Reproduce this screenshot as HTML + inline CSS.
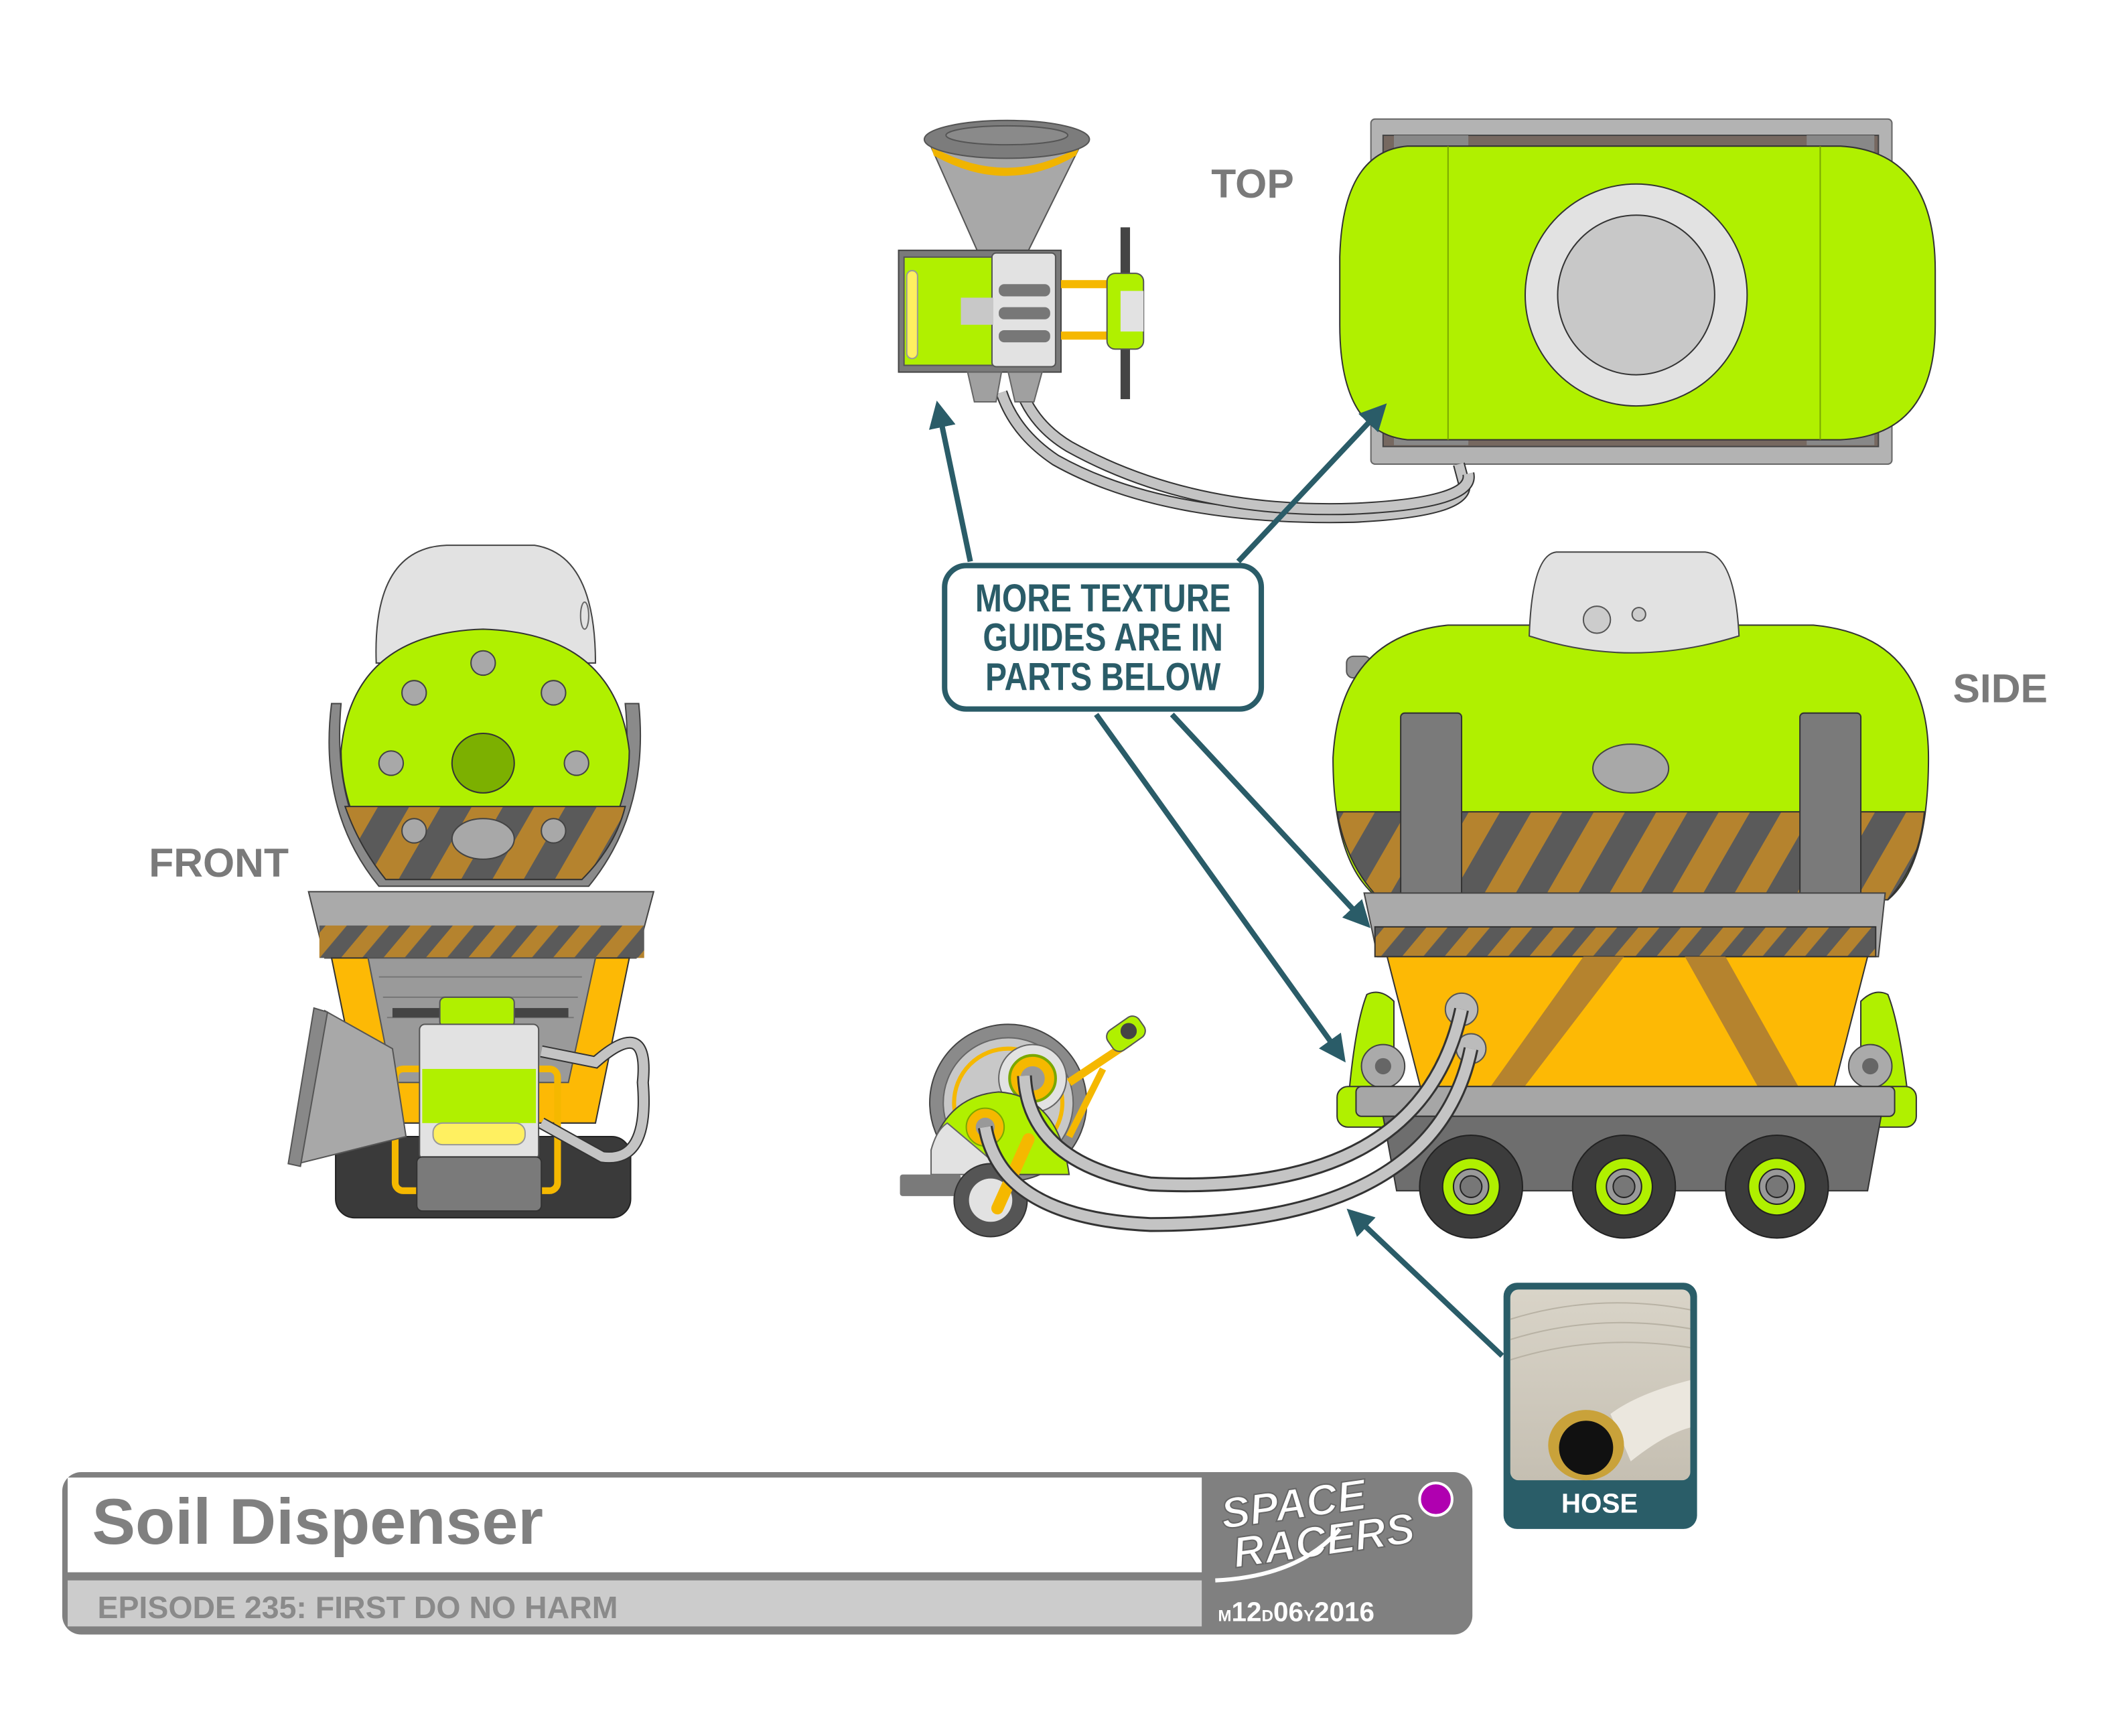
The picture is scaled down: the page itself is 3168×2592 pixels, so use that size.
<!DOCTYPE html>
<html><head><meta charset="utf-8"><style>
html,body{margin:0;padding:0;background:#fff}
svg{display:block}
text{font-family:"Liberation Sans",sans-serif;font-weight:bold}
</style></head><body>
<svg width="3168" height="2592" viewBox="0 0 1568 1283" preserveAspectRatio="none" xmlns="http://www.w3.org/2000/svg">
<defs>
<pattern id="hz" width="40" height="40" patternUnits="userSpaceOnUse" patternTransform="rotate(30)">
<rect width="40" height="40" fill="#5a5a5a"/><rect width="20" height="40" fill="#b5832e"/></pattern>
<pattern id="hz2" width="24" height="24" patternUnits="userSpaceOnUse" patternTransform="rotate(40)">
<rect width="24" height="24" fill="#5a5a5a"/><rect width="12" height="24" fill="#b5832e"/></pattern>
<marker id="ah" viewBox="0 0 10 10" refX="8" refY="5" markerWidth="5" markerHeight="5" orient="auto"><path d="M0,0 L10,5 L0,10 z" fill="#2a5c68"/></marker>
<linearGradient id="hg" x1="0" y1="0" x2="0" y2="1"><stop offset="0" stop-color="#d9d4c8"/><stop offset="1" stop-color="#c5bfb2"/></linearGradient>
</defs>

<text x="895" y="146" font-size="30" fill="#7a7a7a">TOP</text>
<text x="1443" y="519" font-size="30" fill="#7a7a7a">SIDE</text>
<text x="110" y="648" font-size="30" fill="#7a7a7a">FRONT</text>

<!-- TOP VIEW big tank -->
<rect x="1013" y="88" width="385" height="255" rx="3" fill="#b3b3b3" stroke="#666"/>
<rect x="1022" y="100" width="366" height="230" fill="#766860" stroke="#444"/>
<rect x="1030" y="100" width="55" height="12" fill="#888"/><rect x="1335" y="100" width="50" height="12" fill="#888"/>
<rect x="1030" y="317" width="55" height="12" fill="#888"/><rect x="1335" y="317" width="50" height="12" fill="#888"/>
<path d="M1040,108 L1360,108 Q1430,112 1430,200 L1430,240 Q1430,322 1360,325 L1040,325 Q990,320 990,240 L990,190 Q992,112 1040,108 Z" fill="#b0f000" stroke="#333"/>
<line x1="1070" y1="108" x2="1070" y2="325" stroke="#7aa800"/><line x1="1345" y1="108" x2="1345" y2="325" stroke="#7aa800"/>
<ellipse cx="1209" cy="218" rx="82" ry="82" fill="#e2e2e2" stroke="#333"/>
<ellipse cx="1209" cy="218" rx="58" ry="59" fill="#c8c8c8" stroke="#333"/>
<path d="M1078,343 L1082,358 Q1085,378 1000,382 Q860,385 780,340 Q750,320 740,290" fill="none" stroke="#333" stroke-width="9"/>
<path d="M1078,343 L1082,358 Q1085,378 1000,382 Q860,385 780,340 Q750,320 740,290" fill="none" stroke="#c4c4c4" stroke-width="7"/>
<path d="M1085,350 Q1090,372 1000,376 Q880,380 790,330 Q765,315 755,290" fill="none" stroke="#333" stroke-width="9"/>
<path d="M1085,350 Q1090,372 1000,376 Q880,380 790,330 Q765,315 755,290" fill="none" stroke="#c4c4c4" stroke-width="7"/>

<!-- TOP small device -->
<path d="M686,104 L800,104 L760,185 L722,185 Z" fill="#a8a8a8" stroke="#555"/>
<path d="M688,108 Q744,140 798,108 L795,115 Q744,145 690,115Z" fill="#f0b400"/>
<ellipse cx="744" cy="103" rx="61" ry="14" fill="#7c7c7c" stroke="#555"/>
<ellipse cx="744" cy="100" rx="45" ry="7" fill="#8a8a8a" stroke="#555"/>
<rect x="664" y="185" width="120" height="90" fill="#7a7a7a" stroke="#444"/>
<rect x="668" y="190" width="70" height="80" fill="#b0f000" stroke="#555"/>
<rect x="670" y="200" width="8" height="65" rx="4" fill="#fff060" stroke="#999"/>
<rect x="733" y="187" width="47" height="84" rx="3" fill="#e2e2e2" stroke="#555"/>
<rect x="738" y="210" width="38" height="9" rx="4" fill="#777"/><rect x="738" y="227" width="38" height="9" rx="4" fill="#777"/><rect x="738" y="244" width="38" height="9" rx="4" fill="#777"/>
<rect x="710" y="220" width="24" height="20" fill="#c8c8c8"/>
<rect x="784" y="207" width="35" height="6" fill="#f5b800"/><rect x="784" y="245" width="35" height="6" fill="#f5b800"/>
<rect x="828" y="168" width="7" height="127" fill="#444"/>
<rect x="818" y="202" width="27" height="56" rx="6" fill="#b0f000" stroke="#555"/>
<rect x="828" y="215" width="17" height="30" fill="#e2e2e2"/>
<path d="M715,275 L740,275 L736,297 L720,297Z" fill="#a0a0a0" stroke="#666"/>
<path d="M745,275 L770,275 L764,297 L750,297Z" fill="#a0a0a0" stroke="#666"/>

<!-- callout -->
<g stroke="#2a5c68" stroke-width="4" fill="none" marker-end="url(#ah)">
<line x1="717" y1="415" x2="693" y2="300"/>
<line x1="915" y1="415" x2="1022" y2="301"/>
<line x1="810" y1="528" x2="992" y2="782"/>
<line x1="866" y1="528" x2="1010" y2="683"/>
<line x1="1110" y1="1002" x2="998" y2="896"/>
</g>
<rect x="698" y="418" width="234" height="106" rx="16" fill="#fff" stroke="#2a5c68" stroke-width="4"/>
<g font-size="29" fill="#2a5c68" text-anchor="middle" transform="translate(815,0) scale(0.82,1)">
<text x="0" y="452">MORE TEXTURE</text><text x="0" y="481">GUIDES ARE IN</text><text x="0" y="510">PARTS BELOW</text></g>

<!-- SIDE VIEW -->
<rect x="995" y="485" width="18" height="16" rx="5" fill="#999" stroke="#555"/>
<rect x="995" y="510" width="18" height="18" rx="5" fill="#aaa" stroke="#555"/>
<rect x="995" y="560" width="18" height="18" rx="5" fill="#aaa" stroke="#555"/>
<rect x="995" y="610" width="18" height="18" rx="5" fill="#aaa" stroke="#555"/>
<path d="M1070,462 L1340,462 Q1425,470 1425,560 Q1425,640 1395,665 L1020,665 Q985,640 985,560 Q990,470 1070,462 Z" fill="#b0f000" stroke="#333"/>
<path d="M1130,470 Q1132,410 1150,408 L1260,408 Q1282,410 1285,470 Q1205,495 1130,470Z" fill="#e2e2e2" stroke="#444"/>
<circle cx="1180" cy="458" r="10" fill="#ccc" stroke="#555"/><circle cx="1211" cy="454" r="5" fill="#ccc" stroke="#555"/>
<path d="M988,600 L1422,600 Q1418,640 1395,665 L1020,665 Q995,640 988,600Z" fill="url(#hz)" stroke="#333"/>
<rect x="1035" y="527" width="45" height="138" rx="3" fill="#7a7a7a" stroke="#333"/>
<rect x="1330" y="527" width="45" height="138" rx="3" fill="#7a7a7a" stroke="#333"/>
<ellipse cx="1205" cy="568" rx="28" ry="18" fill="#a8a8a8" stroke="#444"/>
<path d="M1008,660 L1393,660 L1388,707 L1018,707Z" fill="#aaa" stroke="#444"/>
<rect x="1016" y="685" width="370" height="22" fill="url(#hz2)" stroke="#333"/>
<path d="M1010,735 Q1020,730 1030,740 L1030,830 L995,830 Q1000,760 1010,735Z" fill="#b0f000" stroke="#333"/>
<path d="M1395,735 Q1385,730 1375,740 L1375,830 L1412,830 Q1405,760 1395,735Z" fill="#b0f000" stroke="#333"/>
<path d="M1025,707 L1380,707 L1355,805 L1050,805Z" fill="#fdb905" stroke="#333"/>
<path d="M1100,805 L1170,707 L1200,707 L1125,805Z M1245,707 L1275,707 L1330,805 L1300,805Z" fill="#b5832e"/>
<circle cx="1022" cy="788" r="16" fill="#aaa" stroke="#444"/><circle cx="1022" cy="788" r="6" fill="#666"/>
<circle cx="1382" cy="788" r="16" fill="#aaa" stroke="#444"/><circle cx="1382" cy="788" r="6" fill="#666"/>
<rect x="988" y="803" width="428" height="30" rx="8" fill="#b0f000" stroke="#333"/>
<rect x="1002" y="803" width="398" height="22" rx="4" fill="#a6a6a6" stroke="#333"/>
<path d="M1022,825 L1390,825 L1380,880 L1032,880Z" fill="#6e6e6e" stroke="#333"/>
<g stroke="#222">
<circle cx="1087" cy="877" r="38" fill="#3c3c3c"/><circle cx="1087" cy="877" r="21" fill="#b0f000"/><circle cx="1087" cy="877" r="13" fill="#999"/><circle cx="1087" cy="877" r="8" fill="#777"/>
<circle cx="1200" cy="877" r="38" fill="#3c3c3c"/><circle cx="1200" cy="877" r="21" fill="#b0f000"/><circle cx="1200" cy="877" r="13" fill="#999"/><circle cx="1200" cy="877" r="8" fill="#777"/>
<circle cx="1313" cy="877" r="38" fill="#3c3c3c"/><circle cx="1313" cy="877" r="21" fill="#b0f000"/><circle cx="1313" cy="877" r="13" fill="#999"/><circle cx="1313" cy="877" r="8" fill="#777"/>
</g>
<circle cx="1080" cy="746" r="12" fill="#bbb" stroke="#555"/>
<circle cx="1087" cy="775" r="11" fill="#bbb" stroke="#555"/>

<!-- REEL -->
<circle cx="745" cy="815" r="58" fill="#8a8a8a" stroke="#444"/>
<circle cx="745" cy="815" r="48" fill="#c8c8c8" stroke="#666"/>
<circle cx="745" cy="815" r="40" fill="none" stroke="#f5b800" stroke-width="3"/>
<circle cx="763" cy="797" r="25" fill="#e2e2e2" stroke="#666"/>
<circle cx="763" cy="797" r="17" fill="#f5b800" stroke="#7aa800" stroke-width="2"/>
<circle cx="763" cy="797" r="9" fill="#999"/>
<path d="M790,800 L835,770" stroke="#f5b800" stroke-width="6"/>
<path d="M815,790 L790,840" stroke="#f5b800" stroke-width="5"/>
<rect x="818" y="755" width="28" height="18" rx="6" fill="#b0f000" stroke="#555" transform="rotate(-35 832 764)"/>
<circle cx="834" cy="762" r="6" fill="#444"/>
<path d="M688,868 L688,850 Q700,810 738,807 Q782,810 790,868Z" fill="#b0f000" stroke="#444"/>
<path d="M688,868 L688,850 Q692,835 700,830 L745,868Z" fill="#e2e2e2" stroke="#666"/>
<circle cx="728" cy="833" r="14" fill="#f5b800" stroke="#7aa800"/><circle cx="728" cy="833" r="7" fill="#999"/>
<rect x="665" y="868" width="45" height="16" rx="2" fill="#7a7a7a"/>
<circle cx="732" cy="887" r="27" fill="#555" stroke="#333"/><circle cx="732" cy="887" r="16" fill="#e2e2e2"/>
<path d="M737,893 L760,842" stroke="#f5b800" stroke-width="9" stroke-linecap="round"/>
<g fill="none">
<path d="M757,795 Q760,860 850,875 Q1050,885 1080,746" stroke="#333" stroke-width="11"/>
<path d="M757,795 Q760,860 850,875 Q1050,885 1080,746" stroke="#c4c4c4" stroke-width="8"/>
<path d="M728,833 Q740,900 850,905 Q1060,905 1087,775" stroke="#333" stroke-width="11"/>
<path d="M728,833 Q740,900 850,905 Q1060,905 1087,775" stroke="#c4c4c4" stroke-width="8"/>
</g>

<!-- FRONT VIEW -->
<path d="M278,490 Q275,405 330,403 L395,403 Q440,410 440,490Z" fill="#e2e2e2" stroke="#444"/>
<ellipse cx="432" cy="455" rx="3" ry="10" fill="none" stroke="#666"/>
<path d="M245,520 Q235,600 280,655 L435,655 Q480,600 472,520 L462,520 Q470,600 430,648 L285,648 Q245,600 252,520Z" fill="#8a8a8a" stroke="#444"/>
<path d="M252,555 Q260,468 357,465 Q455,468 465,555 Q465,600 430,650 L285,650 Q252,600 252,555Z" fill="#b0f000" stroke="#333"/>
<path d="M255,596 L462,596 Q455,625 430,650 L285,650 Q265,625 255,596Z" fill="url(#hz)" stroke="#333"/>
<g fill="#a8a8a8" stroke="#444">
<circle cx="357" cy="490" r="9"/><circle cx="306" cy="512" r="9"/><circle cx="409" cy="512" r="9"/>
<circle cx="289" cy="564" r="9"/><circle cx="426" cy="564" r="9"/><circle cx="306" cy="614" r="9"/><circle cx="409" cy="614" r="9"/>
<ellipse cx="357" cy="620" rx="23" ry="15"/></g>
<ellipse cx="357" cy="564" rx="23" ry="22" fill="#7cb000" stroke="#333"/>
<path d="M228,659 L483,659 L470,708 L240,708Z" fill="#aaa" stroke="#444"/>
<rect x="236" y="684" width="240" height="24" fill="url(#hz2)"/>
<path d="M245,708 L465,708 L440,830 L270,830Z" fill="#fdb905" stroke="#333"/>
<path d="M272,708 L440,708 L420,800 L290,800Z" fill="#9a9a9a" stroke="#555"/>
<path d="M280,722 L430,722 M283,737 L427,737 M286,752 L424,752" stroke="#777"/>
<rect x="248" y="840" width="218" height="60" rx="14" fill="#3a3a3a" stroke="#222"/>
<rect x="292" y="790" width="120" height="90" rx="6" fill="none" stroke="#f5b800" stroke-width="5"/>
<rect x="290" y="745" width="130" height="7" fill="#444"/>
<rect x="325" y="737" width="55" height="22" rx="4" fill="#b0f000" stroke="#555"/>
<rect x="310" y="757" width="88" height="100" rx="4" fill="#e2e2e2" stroke="#555"/>
<rect x="312" y="790" width="84" height="40" fill="#b0f000"/>
<rect x="320" y="830" width="68" height="16" rx="7" fill="#fff060" stroke="#999"/>
<rect x="308" y="855" width="92" height="40" rx="4" fill="#7a7a7a" stroke="#333"/>
<path d="M290,775 L240,747 L220,860 L300,840Z" fill="#a8a8a8" stroke="#555"/>
<path d="M232,745 L213,860 L222,862 L242,748Z" fill="#888" stroke="#555"/>
<path d="M400,777 L440,785 Q480,750 475,800 Q480,860 445,855 L400,830" fill="none" stroke="#333" stroke-width="9"/>
<path d="M400,777 L440,785 Q480,750 475,800 Q480,860 445,855 L400,830" fill="none" stroke="#c4c4c4" stroke-width="7"/>

<!-- HOSE panel -->
<rect x="1111" y="948" width="143" height="182" rx="10" fill="#2a5d68"/>
<rect x="1116" y="953" width="133" height="141" rx="6" fill="url(#hg)"/>
<path d="M1116,975 Q1180,955 1249,968 M1116,990 Q1180,970 1249,982 M1116,1005 Q1180,985 1249,996" stroke="#b8b2a4" fill="none"/>
<path d="M1249,1020 Q1210,1030 1190,1045 L1205,1080 Q1230,1060 1249,1055Z" fill="#ebe7de"/>
<ellipse cx="1172" cy="1068" rx="28" ry="26" fill="#c9a23a"/>
<ellipse cx="1172" cy="1070" rx="20" ry="20" fill="#111"/>
<text x="1182" y="1118" font-size="20" fill="#fff" text-anchor="middle">HOSE</text>

<!-- title block -->
<rect x="46" y="1088" width="1042" height="120" rx="14" fill="#808080"/>
<rect x="50" y="1092" width="838" height="70" fill="#fff"/>
<rect x="50" y="1168" width="838" height="34" fill="#cccccc"/>
<text x="68" y="1141" font-size="48" fill="#808080">Soil Dispenser</text>
<text x="72" y="1196" font-size="23" fill="#8a8a8a">EPISODE 235: FIRST DO NO HARM</text>
<text x="903" y="1122" font-size="32" fill="#fff" font-style="italic" transform="rotate(-8 960 1120)" stroke="#666" stroke-width="1">SPACE</text>
<text x="912" y="1152" font-size="32" fill="#fff" font-style="italic" transform="rotate(-8 960 1150)" stroke="#666" stroke-width="1">RACERS</text>
<path d="M898,1168 Q960,1165 990,1130" stroke="#fff" stroke-width="3" fill="none"/>
<circle cx="1061" cy="1108" r="12" fill="#b000b0" stroke="#fff" stroke-width="2"/>
<text x="900" y="1198" font-size="12" fill="#fff">M<tspan font-size="20">12</tspan>D<tspan font-size="20">06</tspan>Y<tspan font-size="20">2016</tspan></text>
</svg>
</body></html>
